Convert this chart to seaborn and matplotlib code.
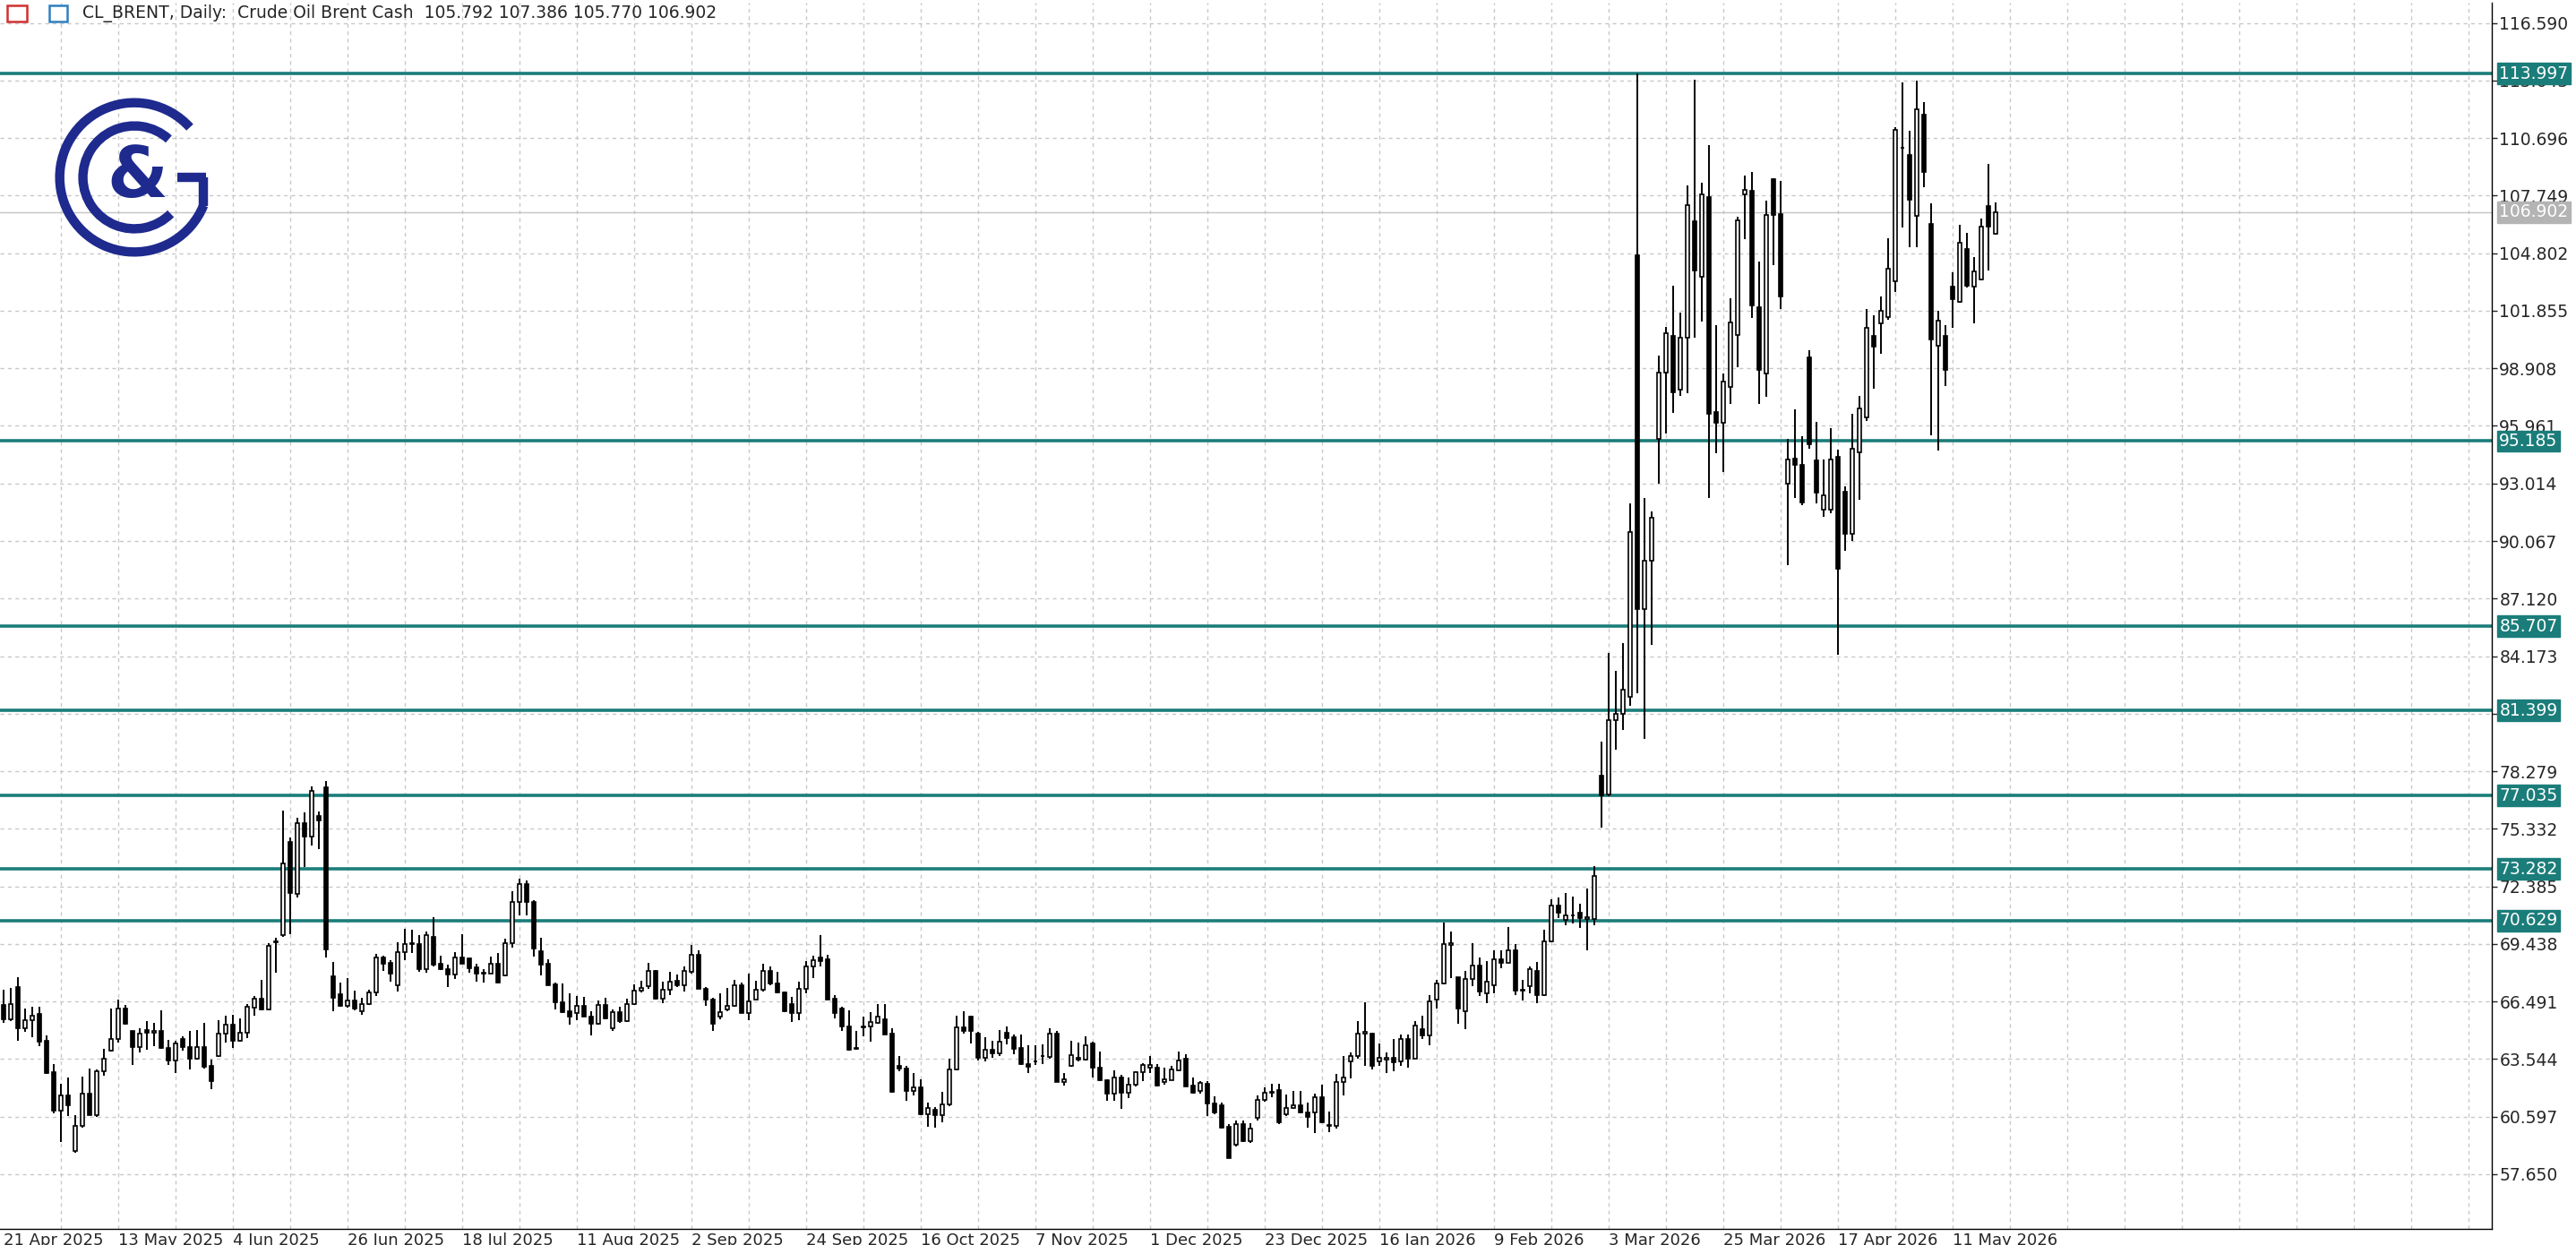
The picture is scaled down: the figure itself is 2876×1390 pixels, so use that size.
import numpy as np
import pandas as pd
import matplotlib
matplotlib.use("Agg")
import matplotlib.pyplot as plt
import matplotlib.transforms as mtransforms
from matplotlib.patches import Arc
import seaborn as sns

# daily OHLC, bar 0 = 21 Apr 2025
opens = [66.29,65.60,67.24,65.14,65.52,65.86,64.48,62.87,60.92,61.66,58.85,60.10,61.76,60.69,62.91,63.96,64.57,66.14,64.99,64.14,
65.03,64.88,64.99,64.11,63.45,64.57,64.14,63.57,64.14,63.19,63.71,64.83,65.29,64.50,64.91,66.17,66.64,66.10,69.50,69.89,
74.67,72.00,75.63,74.94,76.00,77.46,67.80,66.87,66.26,66.55,66.00,66.37,66.95,68.72,68.48,67.32,69.02,69.44,69.44,68.13,
69.82,68.41,68.13,67.86,68.75,68.70,68.26,67.93,67.93,68.44,67.83,69.48,71.60,72.50,71.57,69.08,68.41,67.37,66.47,65.98,
65.91,66.26,65.71,65.37,66.29,65.14,65.94,65.48,66.35,67.03,67.29,68.07,66.64,67.07,67.53,67.30,68.03,68.87,67.15,66.61,
65.71,66.10,66.26,67.30,65.90,66.61,67.07,68.07,67.43,66.97,66.34,65.92,67.15,68.27,68.76,68.64,66.64,66.11,65.23,64.10,
65.18,65.20,65.40,65.59,64.85,63.21,63.05,61.93,62.08,60.70,60.93,60.66,61.21,63.00,65.16,65.70,64.85,63.62,64.03,63.82,
64.90,64.66,64.11,63.28,63.40,63.68,63.67,64.85,62.39,63.19,63.62,63.50,64.36,63.11,62.47,61.75,62.59,61.81,62.21,62.85,
63.11,63.11,62.36,62.47,62.96,63.57,62.19,61.90,62.28,61.29,61.17,60.09,59.14,60.20,59.32,60.52,61.43,61.84,61.94,60.70,
61.05,61.16,60.80,60.80,61.59,60.15,60.11,62.35,63.41,63.69,64.86,64.86,63.41,63.52,63.61,63.41,64.56,63.57,65.09,64.76,
66.59,67.41,69.39,67.72,66.00,67.66,68.34,66.90,67.34,68.65,68.48,69.10,67.03,67.26,68.07,66.80,69.56,71.42,70.66,70.88,
71.04,70.70,70.70,78.03,77.09,80.88,81.21,82.09,104.72,86.59,89.04,95.30,98.70,100.55,97.82,100.47,106.44,103.58,107.68,96.68,
96.12,97.97,100.62,107.80,108.00,102.06,98.65,108.59,106.79,92.98,94.30,93.97,99.46,94.19,91.69,91.66,94.39,92.60,90.43,94.60,
96.40,100.59,101.23,101.54,103.38,110.18,109.85,106.71,111.90,106.30,100.08,100.55,103.07,102.30,105.00,103.07,103.48,107.22,105.792]
highs = [67.10,67.20,67.75,66.14,66.20,66.20,64.76,63.30,62.27,62.60,60.69,62.64,63.07,62.99,64.07,66.14,66.60,66.29,65.00,65.14,
65.49,65.40,66.03,64.53,64.48,64.70,64.99,65.03,65.40,63.50,65.52,65.75,65.80,65.63,66.37,66.78,67.60,69.48,69.75,76.27,
74.90,75.90,76.15,77.49,76.23,77.77,68.50,67.48,67.70,67.05,66.70,67.09,68.93,68.82,68.60,69.50,70.20,70.15,69.90,70.05,
70.79,68.84,68.36,69.00,69.95,68.75,68.44,68.13,68.78,68.98,69.70,72.15,72.76,72.70,71.70,69.75,68.66,67.45,67.43,66.90,
66.75,66.72,65.99,66.52,66.70,66.09,66.20,66.65,67.35,67.53,68.49,68.10,67.49,67.99,67.87,68.30,69.38,69.10,67.25,66.70,
66.89,67.20,67.61,67.45,67.92,67.57,68.41,68.30,68.03,67.00,66.74,67.49,68.58,68.84,69.88,68.88,66.80,66.20,66.03,64.96,
65.70,65.95,66.34,66.34,65.13,63.70,63.20,62.81,62.50,61.32,61.10,61.85,63.57,65.77,66.00,65.78,64.95,64.65,64.46,65.03,
65.19,64.80,64.80,64.23,64.23,64.30,65.13,64.96,62.81,64.50,64.39,64.70,64.45,63.93,62.50,62.96,62.73,62.59,62.93,63.35,
63.70,63.29,63.10,63.20,63.93,63.78,62.62,62.40,62.40,61.65,61.33,60.20,60.40,60.40,60.24,61.70,62.07,62.27,62.27,61.74,
61.89,61.89,61.30,61.79,62.23,60.85,62.80,63.69,63.90,65.47,66.44,64.90,64.33,63.87,64.56,64.82,64.80,65.48,65.78,66.80,
67.61,70.51,70.09,67.75,68.07,69.49,68.72,68.57,69.09,69.09,70.28,69.41,67.61,68.30,68.53,70.16,71.73,71.83,72.03,71.88,
71.50,72.29,73.40,79.81,84.32,83.40,84.82,92.00,113.997,92.25,91.57,99.54,101.05,103.15,101.76,108.26,113.69,108.43,110.33,101.10,
98.65,102.49,106.67,108.76,108.97,104.39,107.50,108.65,108.51,95.29,96.83,95.44,99.84,96.18,94.23,95.83,94.76,92.85,96.59,97.50,
101.95,101.64,102.60,105.58,111.27,113.54,111.06,113.65,112.52,107.37,101.85,101.12,103.83,106.24,105.85,104.59,106.60,109.38,107.386]
lows = [65.40,65.50,64.48,64.94,64.68,64.22,62.80,60.74,59.30,60.64,58.74,60.05,60.65,60.60,62.68,63.92,64.37,65.30,63.22,63.87,
64.03,64.20,64.05,63.22,62.84,63.98,62.99,63.50,63.07,61.99,63.65,64.37,64.11,64.45,64.60,65.75,66.05,66.05,67.98,69.80,
69.94,71.80,73.37,74.47,74.29,68.74,65.98,66.20,66.18,66.05,65.80,66.29,66.75,68.06,67.49,66.98,68.60,68.98,68.01,67.98,
68.30,68.10,67.21,67.65,68.40,67.95,67.49,67.44,67.90,67.40,67.78,69.25,70.88,70.90,68.78,67.82,67.30,66.06,65.90,65.29,
65.55,65.70,64.76,65.30,65.60,64.99,65.40,65.45,66.30,66.95,67.15,66.60,66.41,66.80,67.23,66.99,67.92,67.12,66.28,64.97,
65.60,66.00,66.22,65.90,65.51,66.58,67.02,67.30,66.92,65.95,65.46,65.54,66.89,67.69,68.30,66.58,65.62,65.00,63.97,64.02,
64.70,64.42,65.35,64.80,61.84,62.93,61.40,61.67,60.68,60.09,60.05,60.29,61.12,62.98,64.85,64.35,63.47,63.42,63.60,63.72,
64.28,63.78,63.25,62.81,63.23,63.27,63.55,62.37,62.19,63.15,63.43,63.48,62.58,62.42,61.39,61.39,61.00,61.55,62.14,62.40,
62.84,62.16,62.25,62.44,62.92,62.14,61.75,61.78,60.63,60.70,60.00,58.46,59.06,59.30,59.25,60.40,61.36,61.58,60.21,60.64,
61.00,60.76,60.03,59.76,60.25,59.79,59.99,61.66,62.53,63.54,63.19,62.99,63.19,62.84,62.92,63.19,63.08,63.55,64.56,64.26,
66.13,67.38,67.69,65.35,65.09,67.26,66.77,66.42,66.92,68.20,68.45,66.80,66.54,66.89,66.42,66.78,69.50,70.74,70.40,70.50,
70.25,69.13,70.40,75.40,77.00,79.36,80.37,81.64,82.27,79.94,84.75,93.01,95.56,96.63,97.50,97.64,100.47,101.30,92.28,94.56,
93.60,97.08,98.95,105.53,101.48,97.08,97.46,104.21,101.94,88.84,92.28,91.90,94.80,91.99,91.31,91.50,84.23,89.57,90.08,92.17,
96.20,97.88,99.63,101.40,102.80,106.13,105.11,105.11,108.19,95.46,94.70,97.98,101.00,102.25,103.05,101.20,103.40,103.90,105.770]
closes = [65.60,66.37,65.10,65.52,65.77,64.45,62.84,60.92,61.66,61.18,60.10,61.76,60.69,62.91,63.56,64.56,66.14,65.37,64.14,64.83,
64.88,64.97,64.10,63.45,64.33,64.17,63.57,64.14,63.14,62.42,64.83,65.29,64.50,64.91,66.21,66.63,66.10,69.36,69.55,73.57,
72.03,75.60,74.94,77.26,75.78,69.14,66.70,66.26,66.55,66.14,66.37,66.95,68.75,68.44,67.90,69.02,69.44,69.47,68.13,69.90,
68.36,68.13,67.86,68.75,68.44,68.21,67.90,67.95,68.41,67.44,69.46,71.60,72.50,71.57,69.20,68.36,67.33,66.44,65.95,65.71,
66.26,65.71,65.37,66.29,65.63,65.94,65.48,66.34,67.03,67.18,68.07,66.64,67.07,67.49,67.30,68.07,68.87,67.15,66.58,65.34,
65.95,66.28,67.30,65.92,66.51,67.07,68.07,67.41,66.95,65.97,65.92,67.15,68.27,68.61,68.58,66.61,65.89,65.20,64.03,64.08,
65.22,65.42,65.70,64.82,61.86,63.05,61.93,62.08,60.70,61.06,60.66,61.24,63.00,65.16,64.97,64.97,63.62,64.03,63.82,64.42,
64.62,64.05,63.27,63.16,63.44,63.72,64.85,62.39,62.50,63.73,63.50,64.23,63.08,62.44,61.75,62.59,61.81,62.21,62.85,63.24,
63.24,62.18,62.50,63.01,63.47,62.16,61.81,62.31,61.29,60.83,60.04,58.48,60.20,59.32,59.97,61.43,61.84,61.86,60.32,61.05,
61.16,60.80,60.60,61.59,60.29,60.13,62.35,62.62,63.72,64.86,64.94,63.19,63.60,63.61,63.39,64.56,63.57,65.28,64.76,66.51,
67.43,69.44,69.48,66.13,67.66,68.34,67.00,67.50,68.65,68.48,69.10,67.05,67.07,68.14,66.80,69.56,71.39,71.04,70.89,70.90,
70.74,70.81,72.92,77.04,80.88,81.21,82.47,90.51,86.59,89.04,91.24,98.70,100.73,97.69,100.47,107.25,103.91,107.80,96.58,96.12,
98.22,101.25,106.49,108.06,102.11,98.85,106.74,106.74,102.57,94.25,93.97,92.03,95.04,92.54,92.41,94.23,88.64,90.43,94.80,96.85,
100.96,100.04,101.85,104.00,111.12,110.20,107.53,112.19,108.97,100.38,101.37,98.85,102.46,105.33,103.15,103.87,106.15,106.15,106.902]

level_prices = [113.997, 95.185, 85.707, 81.399, 77.035, 73.282, 70.629]
last_price = 106.902
price_ticks = [57.650, 60.597, 63.544, 66.491, 69.438, 72.385, 75.332, 78.279, 81.226, 84.173, 87.120,
               90.067, 93.014, 95.961, 98.908, 101.855, 104.802, 107.749, 110.696, 113.643, 116.590]
date_labels = ["21 Apr 2025", "13 May 2025", "4 Jun 2025", "26 Jun 2025", "18 Jul 2025", "11 Aug 2025",
               "2 Sep 2025", "24 Sep 2025", "16 Oct 2025", "7 Nov 2025", "1 Dec 2025", "23 Dec 2025",
               "16 Jan 2026", "9 Feb 2026", "3 Mar 2026", "25 Mar 2026", "17 Apr 2026", "11 May 2026"]
title = "CL_BRENT, Daily:  Crude Oil Brent Cash  105.792 107.386 105.770 106.902"

df = pd.DataFrame({"open": opens, "high": highs, "low": lows, "close": closes})
df["bar"] = np.arange(len(df))
df["up"] = df["close"] >= df["open"]

sns.set_style("white")
plt.rcParams["font.family"] = ["DejaVu Sans"]
teal = "#1b7d7a"
fs = 13.5

fig = plt.figure(figsize=(28.76, 13.90), dpi=100)
ax = fig.add_axes([0.0, 0.013, 2782 / 2876, 0.985])

# grid
for p in price_ticks:
    ax.axhline(p, color="#c8c8c8", lw=1, ls=(0, (3, 3)), zorder=0)
for b in range(8, 348, 8):
    ax.axvline(b, color="#c8c8c8", lw=1, ls=(0, (3, 3)), zorder=0)

# support/resistance levels
for p in level_prices:
    ax.axhline(p, color=teal, lw=2.6, zorder=1)
ax.axhline(last_price, color="#c4c4c4", lw=1, zorder=1)

# candles
ax.vlines(df["bar"], df["low"], df["high"], color="black", lw=1.4, zorder=2)
body_lo = df[["open", "close"]].min(axis=1)
body_h = (df["close"] - df["open"]).abs().clip(lower=0.04)
ax.bar(df["bar"], body_h, bottom=body_lo, width=0.62,
       color=np.where(df["up"], "white", "black"), edgecolor="black", linewidth=1.2, zorder=3)

ax.set_xlim(-0.5, 347.25)
ax.set_ylim(54.85, 117.64)

ax.yaxis.tick_right()
ax.set_yticks(price_ticks)
ax.set_yticklabels([f"{p:.3f}" for p in price_ticks], fontsize=fs)
ax.tick_params(axis="y", length=4, width=1, pad=2, direction="out")
ax.set_xticks(np.arange(0, len(date_labels) * 16, 16))
ax.set_xticklabels(date_labels, fontsize=fs - 0.5, ha="left")
ax.tick_params(axis="x", length=3, width=1, pad=0)
for s in ["top", "left"]:
    ax.spines[s].set_visible(False)
for s in ["right", "bottom"]:
    ax.spines[s].set_color("black")
    ax.spines[s].set_linewidth(1)

# price tags on the axis
trans = mtransforms.blended_transform_factory(ax.transAxes, ax.transData)
for p in level_prices:
    ax.text(1.003, p, f"{p:.3f}", transform=trans, fontsize=fs, color="white", va="center", ha="left",
            bbox=dict(boxstyle="square,pad=0.12", fc=teal, ec=teal), zorder=10, clip_on=False)
ax.text(1.003, last_price, f"{last_price:.3f}", transform=trans, fontsize=fs, color="white", va="center",
        ha="left", bbox=dict(boxstyle="square,pad=0.12", fc="#b4b4b4", ec="#b4b4b4"), zorder=10, clip_on=False)

fig.text(92 / 2876, 1 - 15 / 1390, title, fontsize=fs, va="center", ha="left")
# small toolbar icons
fig.patches.append(plt.Rectangle((8 / 2876, 1 - 24 / 1390), 22 / 2876, 18 / 1390, transform=fig.transFigure,
                                 fc="white", ec="#d03030", lw=1.8))
fig.patches.append(plt.Rectangle((55 / 2876, 1 - 24 / 1390), 20 / 2876, 18 / 1390, transform=fig.transFigure,
                                 fc="white", ec="#2f7fc0", lw=1.8))

# logo
lax = fig.add_axes([55 / 2876, 1 - 293 / 1390, 190 / 2876, 190 / 1390])
lax.set_xlim(-1.1, 1.1)
lax.set_ylim(-1.1, 1.1)
lax.set_aspect("equal")
lax.axis("off")
navy = "#1e2a8e"
lax.add_patch(Arc((0, 0), 1.93, 1.93, theta1=42, theta2=338, lw=7.5, color=navy, capstyle="butt"))
lax.plot([0.895, 0.895], [-0.37, 0.0], color=navy, lw=7.5, solid_capstyle="butt")
lax.plot([0.55, 0.93], [0.0, 0.0], color=navy, lw=7.5, solid_capstyle="butt")
lax.add_patch(Arc((0, 0), 1.33, 1.33, theta1=48, theta2=315, lw=7.5, color=navy, capstyle="butt"))
lax.text(0.04, 0.0, "&", fontsize=56, color=navy, ha="center", va="center", fontweight="bold")

fig.savefig("out.png", dpi=100)
